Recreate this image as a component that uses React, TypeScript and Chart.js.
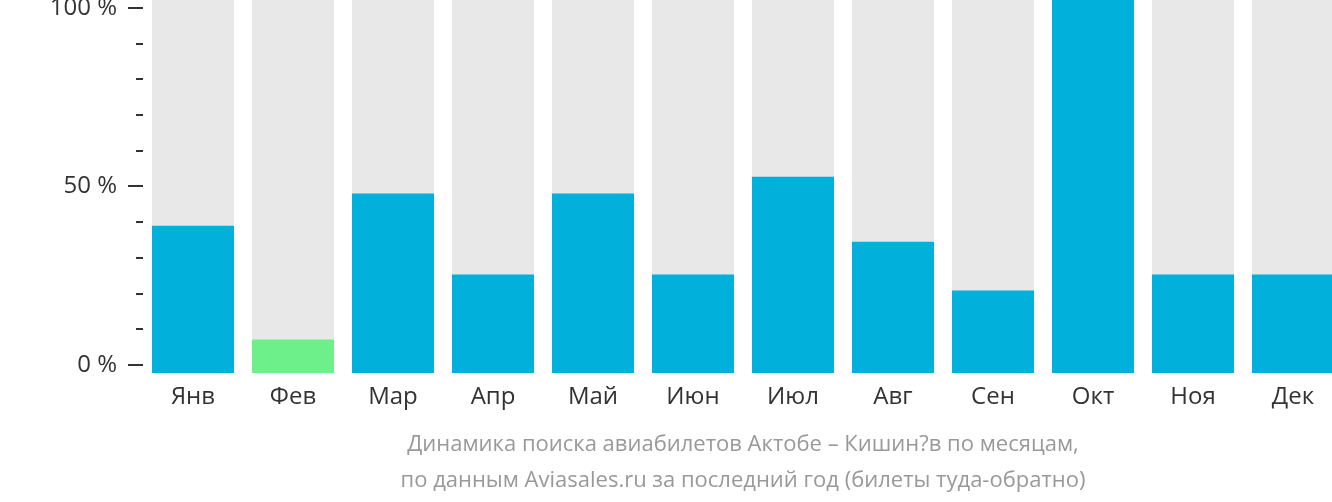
import React, { useEffect, useRef } from "react";
import { Chart, registerables } from "chart.js";

Chart.register(...registerables);

const months = ["Янв", "Фев", "Мар", "Апр", "Май", "Июн", "Июл", "Авг", "Сен", "Окт", "Ноя", "Дек"];
const values = [39.5, 9.0, 48.1, 26.4, 48.1, 26.4, 52.6, 35.2, 22.1, 100, 26.4, 26.4];
const background = [100, 100, 100, 100, 100, 100, 100, 100, 100, 100, 100, 100];
const barColors = ["#02b0dc", "#6df08a", "#02b0dc", "#02b0dc", "#02b0dc", "#02b0dc", "#02b0dc", "#02b0dc", "#02b0dc", "#02b0dc", "#02b0dc", "#02b0dc"];
const yTicks = [0, 10, 20, 30, 40, 50, 60, 70, 80, 90, 100];
const yLabeled = [0, 50, 100];
const titleLines = [
  "Динамика поиска авиабилетов Актобе – Кишин?в по месяцам,",
  "по данным Aviasales.ru за последний год (билеты туда-обратно)",
];

const tickMarks = {
  id: "tickMarks",
  afterDraw(chart: any) {
    const s = chart.scales.y;
    const ctx = chart.ctx;
    ctx.save();
    ctx.strokeStyle = "#333333";
    ctx.lineWidth = 2;
    for (const v of yTicks) {
      const py = Math.round(s.getPixelForValue(v));
      const len = yLabeled.includes(v) ? 15 : 7;
      ctx.beginPath();
      ctx.moveTo(s.right - len, py);
      ctx.lineTo(s.right, py);
      ctx.stroke();
    }
    ctx.restore();
  },
};

export default function App() {
  const ref = useRef<HTMLCanvasElement>(null);
  useEffect(() => {
    const chart = new Chart(ref.current!, {
      type: "bar",
      data: {
        labels: months,
        datasets: [
          {
            data: values,
            backgroundColor: barColors,
            yAxisID: "y2",
            grouped: false,
            barPercentage: 0.82,
            categoryPercentage: 1,
          } as any,
          {
            data: background,
            backgroundColor: "#e8e8e8",
            yAxisID: "y2",
            grouped: false,
            barPercentage: 0.82,
            categoryPercentage: 1,
          } as any,
        ],
      },
      options: {
        animation: false,
        responsive: false,
        maintainAspectRatio: false,
        layout: { padding: 0 },
        plugins: { legend: { display: false }, tooltip: { enabled: false }, title: { display: false } },
        scales: {
          x: {
            grid: { display: false, drawTicks: false },
            border: { display: false },
            ticks: {
              color: "#333333",
              font: { family: "'Open Sans'", size: 24 },
              padding: 10,
              maxRotation: 0,
              autoSkip: false,
            },
            title: {
              display: true,
              text: titleLines,
              color: "#999999",
              font: { family: "'Open Sans'", size: 22, lineHeight: 36 / 22 },
              padding: { top: 0, bottom: 3 },
            },
            afterFit(scale: any) {
              scale.height = 129;
              scale.paddingLeft = 0;
              scale.paddingRight = 0;
            },
          },
          y: {
            min: -2.24,
            max: 102.24,
            grid: { display: false, drawTicks: false },
            border: { display: false },
            afterBuildTicks(scale: any) {
              scale.ticks = yTicks.map((v) => ({ value: v }));
            },
            ticks: {
              color: "#333333",
              font: { family: "'Open Sans'", size: 24 },
              padding: 26,
              autoSkip: false,
              callback: (v: any) => (yLabeled.includes(Number(v)) ? `${v} %` : ""),
            },
            afterFit(scale: any) {
              scale.width = 143;
              scale.paddingTop = 0;
              scale.paddingBottom = 0;
            },
          },
          y2: {
            display: false,
            min: 0,
            max: 100,
          },
        },
      },
      plugins: [tickMarks],
    });
    return () => chart.destroy();
  }, []);
  return (
    <div style={{ position: "fixed", left: 0, top: 0, width: 1332, height: 502, overflow: "hidden", background: "#fff" }}>
      <canvas ref={ref} width={1343} height={502} style={{ display: "block" }} />
    </div>
  );
}
